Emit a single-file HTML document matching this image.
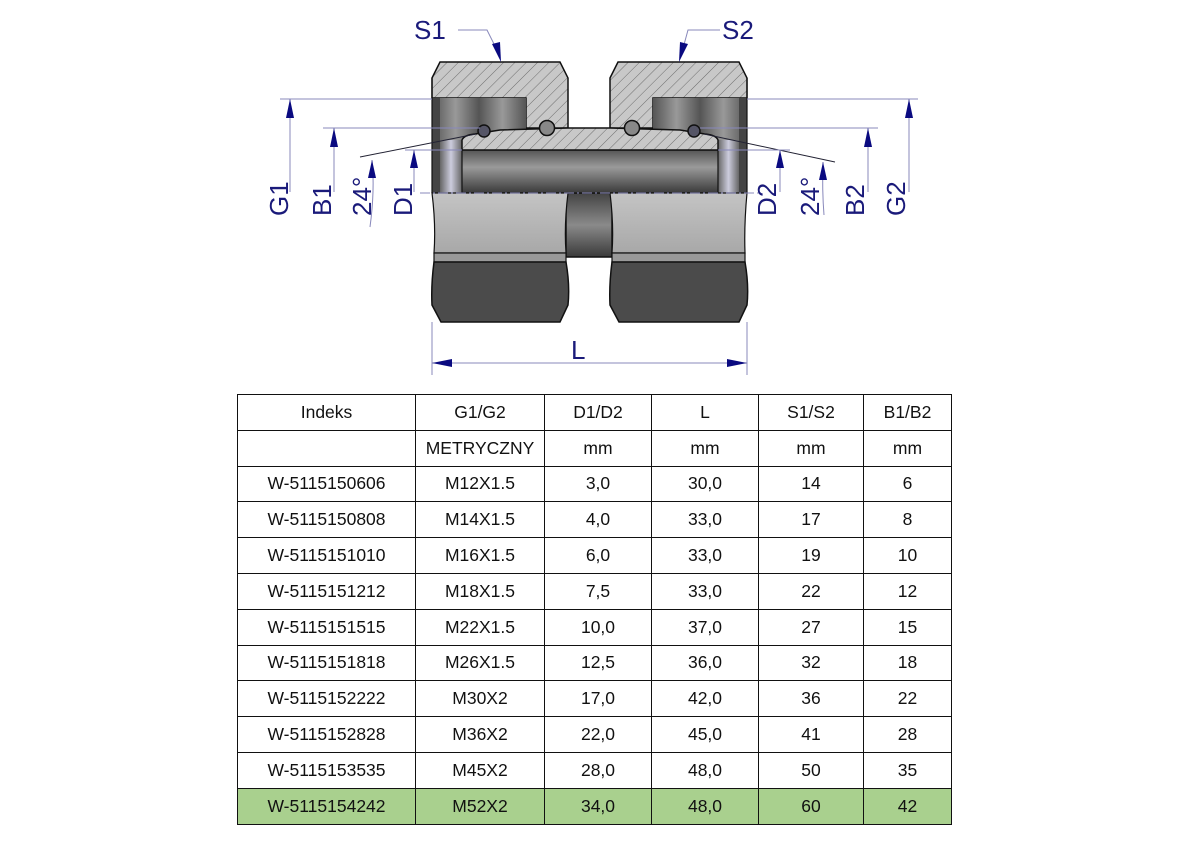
<!DOCTYPE html>
<html><head><meta charset="utf-8"><style>
body{margin:0;background:#fff;width:1191px;height:842px;overflow:hidden;font-family:"Liberation Sans",Arial,sans-serif}
table{position:absolute;left:237px;top:394px;border-collapse:collapse;}
td{border:1.5px solid #111;height:34.8px;padding:0;text-align:center;font-size:17.5px;color:#111;}
tr.g td{background:#a9d08e}
</style></head><body>
<svg width="1191" height="380" style="position:absolute;left:0;top:0" xmlns="http://www.w3.org/2000/svg">
<defs>
<pattern id="h" width="8" height="8" patternUnits="userSpaceOnUse" patternTransform="rotate(45)">
<rect width="8" height="8" fill="#c8c8c8"/><line x1="0" y1="0" x2="0" y2="8" stroke="#555" stroke-width="0.8"/></pattern>
<linearGradient id="bore" x1="0" y1="0" x2="0" y2="1"><stop offset="0" stop-color="#555"/><stop offset="0.4" stop-color="#9a9a9a"/><stop offset="0.7" stop-color="#6a6a6a"/><stop offset="1" stop-color="#3a3a3a"/></linearGradient>
<linearGradient id="mid" x1="0" y1="0" x2="0" y2="1"><stop offset="0" stop-color="#444"/><stop offset="0.5" stop-color="#8a8a8a"/><stop offset="1" stop-color="#3a3a3a"/></linearGradient>
<linearGradient id="thr" x1="0" y1="0" x2="1" y2="0"><stop offset="0" stop-color="#555"/><stop offset="0.25" stop-color="#999"/><stop offset="0.5" stop-color="#555"/><stop offset="0.75" stop-color="#999"/><stop offset="1" stop-color="#555"/></linearGradient>
<linearGradient id="wall" x1="0" y1="0" x2="1" y2="0"><stop offset="0" stop-color="#666"/><stop offset="0.5" stop-color="#ccd"/><stop offset="1" stop-color="#666"/></linearGradient>
<linearGradient id="lg" x1="0" y1="0" x2="0" y2="1"><stop offset="0" stop-color="#c4c4c4"/><stop offset="1" stop-color="#a8a8a8"/></linearGradient>
</defs>
<rect x="566" y="193" width="46" height="64" fill="url(#mid)" stroke="#111" stroke-width="1.5"/>
<path d="M432,78 L440,62 L560,62 L568,78 L568,128 L526,128 L526,98 L432,98 Z" fill="url(#h)" stroke="#111" stroke-width="1.5"/>
<rect x="432" y="98" width="94" height="95" fill="url(#thr)"/>
<rect x="432" y="98" width="8" height="95" fill="#444"/>
<rect x="440" y="140" width="22" height="53" fill="url(#wall)"/>
<path d="M610,78 L618,62 L739,62 L747,78 L747,98 L653,98 L653,128 L610,128 Z" fill="url(#h)" stroke="#111" stroke-width="1.5"/>
<rect x="653" y="98" width="94" height="95" fill="url(#thr)"/>
<rect x="739" y="98" width="8" height="95" fill="#444"/>
<rect x="718" y="140" width="21" height="53" fill="url(#wall)"/>
<rect x="462" y="150" width="256" height="43" fill="url(#bore)" stroke="#111" stroke-width="1.2"/>
<path d="M462,150 L462,140 Q464,135 475,134 L500,130 L568,128 L610,128 L680,130 L705,134 Q716,135 718,140 L718,150 Z" fill="url(#h)" stroke="#111" stroke-width="1.5"/>
<circle cx="547" cy="128" r="7.5" fill="#888" stroke="#111" stroke-width="1.5"/>
<circle cx="632" cy="128" r="7.5" fill="#888" stroke="#111" stroke-width="1.5"/>
<circle cx="484" cy="131" r="6" fill="#556" stroke="#111" stroke-width="1.5"/>
<circle cx="694" cy="131" r="6" fill="#556" stroke="#111" stroke-width="1.5"/>
<path d="M432,193 L568,193 Q564,225 566,253 L434,253 Q436,225 432,193 Z" fill="url(#lg)" stroke="#111" stroke-width="1.2"/>
<path d="M610,193 L747,193 Q744,225 745,253 L612,253 Q614,225 610,193 Z" fill="url(#lg)" stroke="#111" stroke-width="1.2"/>
<rect x="434" y="253" width="132" height="9" fill="#999" stroke="#111" stroke-width="1.2"/>
<rect x="612" y="253" width="133" height="9" fill="#999" stroke="#111" stroke-width="1.2"/>
<path d="M434,262 L566,262 Q570,285 568,305 L560,322 L441,322 L432,305 Q431,285 434,262 Z" fill="#4b4b4b" stroke="#111" stroke-width="1.5"/>
<path d="M612,262 L745,262 Q749,285 747,305 L739,322 L619,322 L610,305 Q609,285 612,262 Z" fill="#4b4b4b" stroke="#111" stroke-width="1.5"/>
<line x1="432" y1="78" x2="432" y2="193" stroke="#111" stroke-width="1.2"/>
<line x1="747" y1="78" x2="747" y2="193" stroke="#111" stroke-width="1.2"/>
<g stroke="#8888bb" stroke-width="1" fill="none">
<line x1="280" y1="99" x2="432" y2="99"/><line x1="290" y1="99" x2="290" y2="192"/>
<line x1="323" y1="128" x2="480" y2="128"/><line x1="334" y1="128" x2="334" y2="192"/>
<line x1="360" y1="157" x2="476" y2="134" stroke="#223"/><path d="M372,160 Q375,190 370,227"/>
<line x1="405" y1="150" x2="462" y2="150"/><line x1="414" y1="150" x2="414" y2="192"/>
<line x1="420" y1="193" x2="760" y2="193" stroke-dasharray="10,3,2,3"/>
<line x1="747" y1="99" x2="918" y2="99"/><line x1="909" y1="99" x2="909" y2="192"/>
<line x1="700" y1="128" x2="878" y2="128"/><line x1="868" y1="128" x2="868" y2="192"/>
<line x1="704" y1="134" x2="835" y2="162" stroke="#223"/><path d="M823,162 Q822,190 824,215"/>
<line x1="718" y1="150" x2="790" y2="150"/><line x1="780" y1="150" x2="780" y2="192"/>
<line x1="432" y1="322" x2="432" y2="375"/><line x1="747" y1="322" x2="747" y2="375"/>
<line x1="432" y1="363" x2="747" y2="363"/>
<polyline points="458,30 487,30 498,52"/><polyline points="720,30 688,30 682,52"/>
</g>
<g fill="#0a0a80">
<path d="M290,99 L286,118 L294,118 Z"/><path d="M334,128 L330,147 L338,147 Z"/>
<path d="M372,160 L368,178 L376,178 Z"/><path d="M414,150 L410,168 L418,168 Z"/>
<path d="M909,99 L905,118 L913,118 Z"/><path d="M868,128 L864,147 L872,147 Z"/>
<path d="M823,162 L819,180 L827,180 Z"/><path d="M780,150 L776,168 L784,168 Z"/>
<path d="M432,363 L452,359 L452,367 Z"/><path d="M747,363 L727,359 L727,367 Z"/>
<path d="M501,62 L492,44 L500,42 Z"/><path d="M679,62 L680,42 L688,44 Z"/>
</g>
<g fill="#1a1a7a" font-family="Liberation Sans,Arial,sans-serif" font-size="26">
<text x="414" y="39">S1</text><text x="722" y="39">S2</text>
<text x="571" y="359">L</text>
<text transform="translate(288,216) rotate(-90)">G1</text>
<text transform="translate(331,216) rotate(-90)">B1</text>
<text transform="translate(371,216) rotate(-90)">24°</text>
<text transform="translate(412,216) rotate(-90)">D1</text>
<text transform="translate(776,216) rotate(-90)">D2</text>
<text transform="translate(819,216) rotate(-90)">24°</text>
<text transform="translate(864,216) rotate(-90)">B2</text>
<text transform="translate(905,216) rotate(-90)">G2</text>
</g>
</svg>
<table>
<colgroup><col style="width:178px"><col style="width:129px"><col style="width:107px"><col style="width:107px"><col style="width:105px"><col style="width:88px"></colgroup>
<tr><td>Indeks</td><td>G1/G2</td><td>D1/D2</td><td>L</td><td>S1/S2</td><td>B1/B2</td></tr>
<tr><td></td><td>METRYCZNY</td><td>mm</td><td>mm</td><td>mm</td><td>mm</td></tr>
<tr><td>W-5115150606</td><td>M12X1.5</td><td>3,0</td><td>30,0</td><td>14</td><td>6</td></tr>
<tr><td>W-5115150808</td><td>M14X1.5</td><td>4,0</td><td>33,0</td><td>17</td><td>8</td></tr>
<tr><td>W-5115151010</td><td>M16X1.5</td><td>6,0</td><td>33,0</td><td>19</td><td>10</td></tr>
<tr><td>W-5115151212</td><td>M18X1.5</td><td>7,5</td><td>33,0</td><td>22</td><td>12</td></tr>
<tr><td>W-5115151515</td><td>M22X1.5</td><td>10,0</td><td>37,0</td><td>27</td><td>15</td></tr>
<tr><td>W-5115151818</td><td>M26X1.5</td><td>12,5</td><td>36,0</td><td>32</td><td>18</td></tr>
<tr><td>W-5115152222</td><td>M30X2</td><td>17,0</td><td>42,0</td><td>36</td><td>22</td></tr>
<tr><td>W-5115152828</td><td>M36X2</td><td>22,0</td><td>45,0</td><td>41</td><td>28</td></tr>
<tr><td>W-5115153535</td><td>M45X2</td><td>28,0</td><td>48,0</td><td>50</td><td>35</td></tr>
<tr class="g"><td>W-5115154242</td><td>M52X2</td><td>34,0</td><td>48,0</td><td>60</td><td>42</td></tr>
</table>
</body></html>
